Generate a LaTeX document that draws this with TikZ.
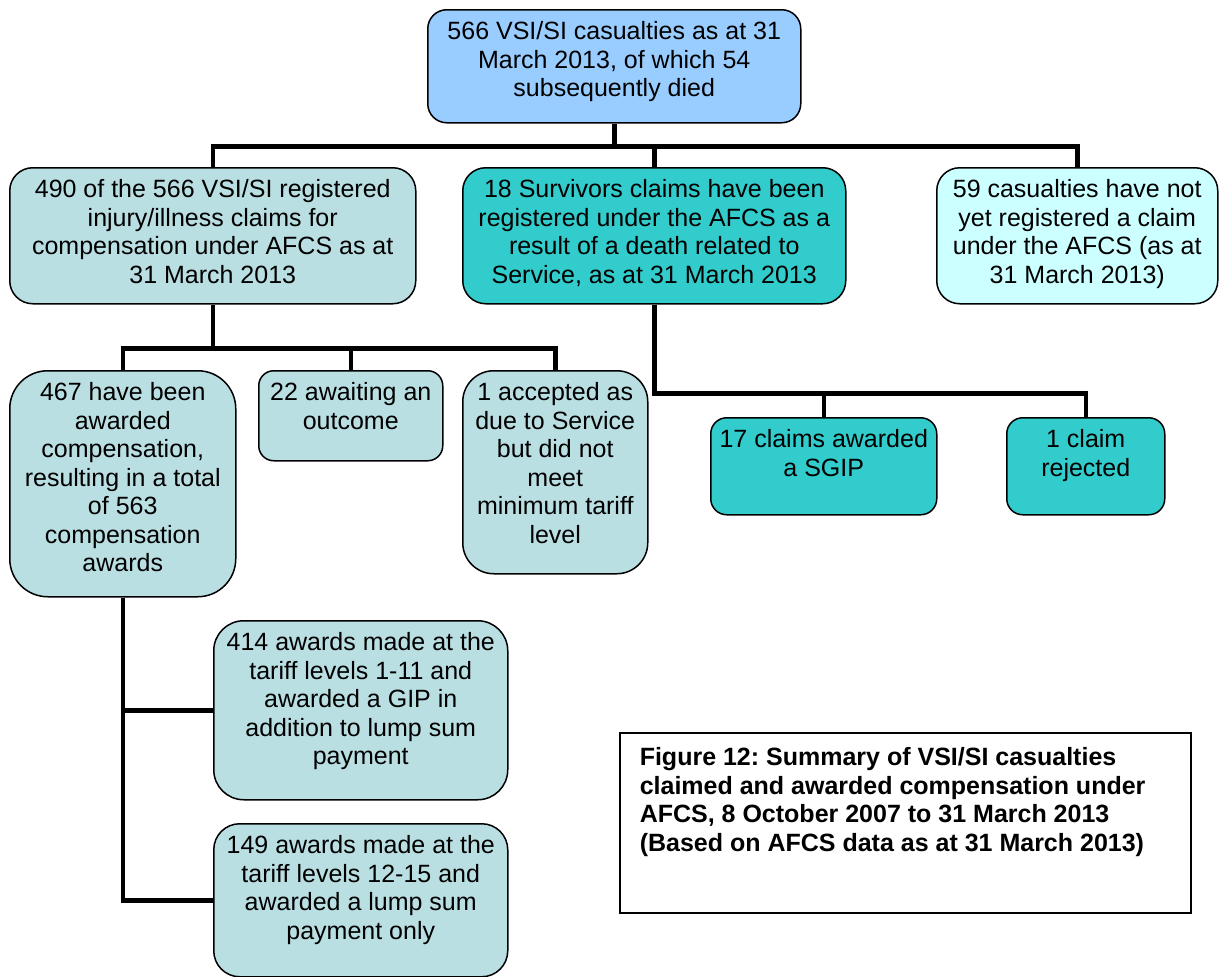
\documentclass[tikz,border=0pt]{standalone}
\usepackage{fontspec}
\setmainfont{Liberation Sans}
\frenchspacing
\definecolor{skyb}{RGB}{153,204,255}
\definecolor{paleteal}{RGB}{186,223,227}
\definecolor{survteal}{RGB}{51,204,204}
\definecolor{paleaqua}{RGB}{204,255,255}
\newcommand{\celltext}[3]{\parbox[c][#2][t]{#1}{\centering\rule{0pt}{30pt}#3}}
\begin{document}
\begin{tikzpicture}[x=1pt, y=-1pt,
    box/.style={draw, rounded corners=#1, line width=1.5pt, inner sep=0pt, anchor=north west,
        font=\fontsize{25}{28.5}\selectfont},
    box/.default=20pt,
    conn/.style={line width=4.5pt}]
\useasboundingbox (0,0) rectangle (1219,977);

% first level
\node[box=19pt, fill=skyb] (top) at (427,9)
    {\celltext{373pt}{113pt}{566 VSI/SI casualties as at 31\\ March 2013, of which 54\\ subsequently died}};
\node[box=23pt, fill=paleteal] (regd) at (9,167)
    {\celltext{406pt}{136pt}{490 of the 566 VSI/SI registered\\ injury/illness claims for\\ compensation under AFCS as at\\ 31 March 2013}};
\node[box=23pt, fill=survteal] (surv) at (462,167)
    {\celltext{383pt}{136pt}{18 Survivors claims have been\\ registered under the AFCS as a\\ result of a death related to\\ Service, as at 31 March 2013}};
\node[box=23pt, fill=paleaqua] (notyet) at (936,167)
    {\celltext{281pt}{136pt}{59 casualties have not\\ yet registered a claim\\ under the AFCS (as at\\ 31 March 2013)}};

% injury/illness claims
\node[box=38pt, fill=paleteal] (awarded) at (9,370)
    {\celltext{226pt}{226pt}{467 have been\\ awarded\\ compensation,\\ resulting in a total\\ of 563\\ compensation\\ awards}};
\node[box=15pt, fill=paleteal] (waiting) at (258,370)
    {\celltext{184pt}{90pt}{22 awaiting an\\ outcome}};
\node[box=31pt, fill=paleteal] (nomin) at (462,370)
    {\celltext{185pt}{203pt}{1 accepted as\\ due to Service\\ but did not\\ meet\\ minimum tariff\\ level}};
\node[box=30pt, fill=paleteal] (gip) at (213,620)
    {\celltext{294pt}{179pt}{414 awards made at the\\ tariff levels 1-11 and\\ awarded a GIP in\\ addition to lump sum\\ payment}};
\node[box=26pt, fill=paleteal] (lump) at (213,823)
    {\celltext{294pt}{153pt}{149 awards made at the\\ tariff levels 12-15 and\\ awarded a lump sum\\ payment only}};

% survivors claims
\node[box=16pt, fill=survteal] (sgip) at (710,417)
    {\celltext{226pt}{97pt}{17 claims awarded\\ a SGIP}};
\node[box=16pt, fill=survteal] (reject) at (1006,417)
    {\celltext{158pt}{97pt}{1 claim\\ rejected}};

\node[draw, line width=1.5pt, inner sep=0pt, anchor=north west,
    font=\bfseries\fontsize{25}{28.5}\selectfont] (caption) at (619,732)
    {\parbox[c][180pt][t]{571pt}{\raggedright\leftskip=20pt\rule{0pt}{33pt}Figure 12: Summary of VSI/SI casualties\\ claimed and awarded compensation under\\ AFCS, 8 October 2007 to 31 March 2013\\ (Based on AFCS data as at 31 March 2013)}};

% connectors
\draw[conn] (top.south) -- ++(0,23) coordinate (j1);
\draw[conn] (regd.north) |- (j1) -| (notyet.north);
\draw[conn] (surv.north) -- (surv.north |- j1);

\draw[conn] (regd.south) -- ++(0,44) coordinate (j2);
\draw[conn] (awarded.north) |- (j2) -| (nomin.north);
\draw[conn] (waiting.north) -- (waiting.north |- j2);

\draw[conn] (surv.south) -- ++(0,89) coordinate (j3) -| (reject.north);
\draw[conn] (sgip.north) -- (sgip.north |- j3);

\draw[conn] (awarded.south) |- (gip.west);
\draw[conn] (awarded.south) |- (lump.west);
\end{tikzpicture}
\end{document}
